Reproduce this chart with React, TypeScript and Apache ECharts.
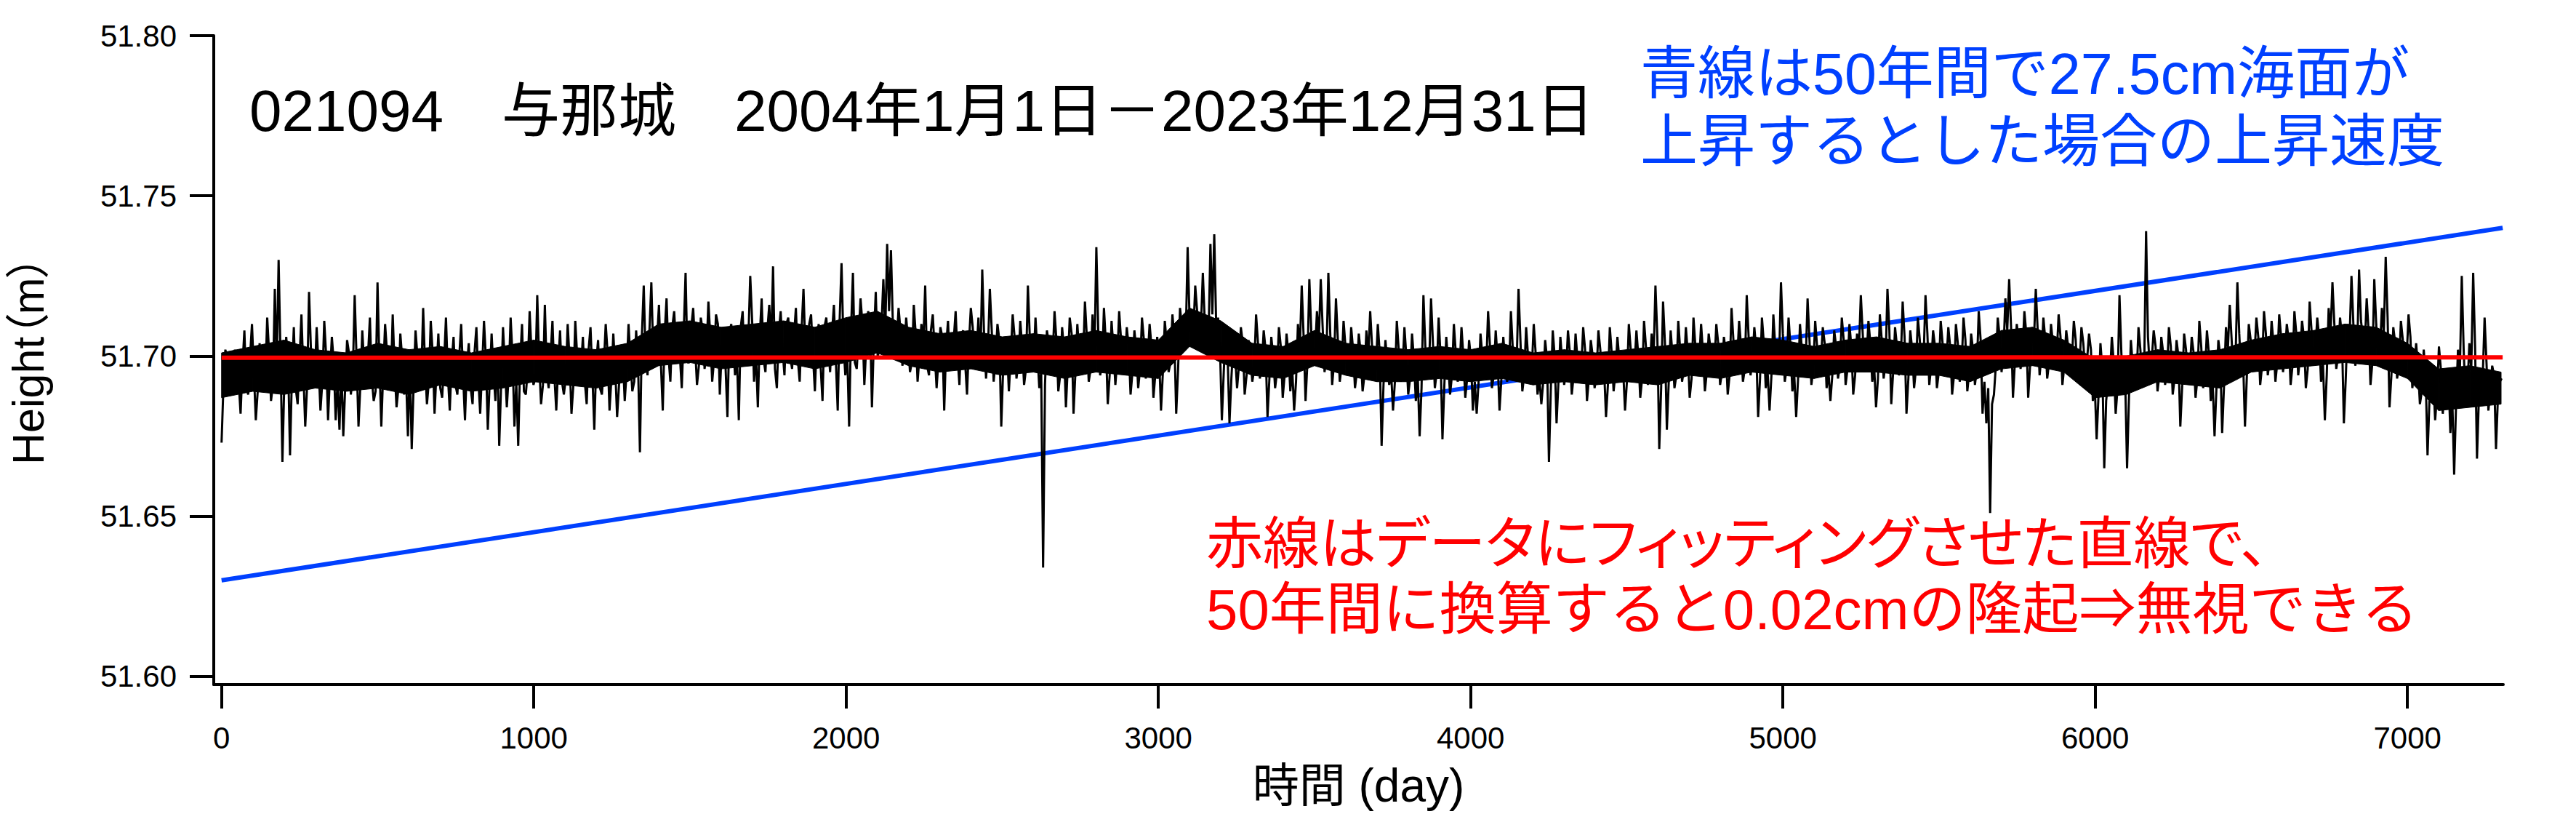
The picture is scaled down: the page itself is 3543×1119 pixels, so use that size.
import React, { useEffect, useRef } from "react";
import * as echarts from "echarts";

// Daily height deviations, in mm relative to 51.700 m.
// "y" arrays: samples ~every 12 days (carry the visible excursions);
// "m" arrays: the in-between samples (the dense core of the trace).
const y2004 = [-27, 2, -5, -10, -3, -18, 8, -12, 10, -20, 4, -8, 12, -14, 21, 30, -33, 6, -31, 9, -15, 13, -22, 20, -10, 9, -17, 11, -20, 6];
const y2005 = [-20, -23, -25, 5, -12, 19, -22, 8, -10, 12, -14, 23, -22, 10, -8, 13, -16, 7, -12, -25, -29, 8, -6, 15, -15, 11, -18, 7, -13, 12];
const y2006 = [-17, 6, -12, 10, -20, 4, -15, 9, -18, 11, -23, 7, -14, -28, 9, -16, 12, -22, -28, 10, -12, 14, -9, 19, -15, 16, -10, 11, -17, 8];
const y2007 = [-12, 10, -18, 11, -8, 6, -15, 9, -23, 5, -12, 10, -17, 7, -19, 3, -14, 10, -11, 8, -30, 22, -6, 23, -3, 16, -17, 18, -8, 14];
const y2008 = [5, -10, 26, -2, 15, -9, 12, -4, 17, -8, 13, -12, 9, -19, 10, -6, -20, 14, -3, 25, -8, -16, 18, -5, 16, 28, -10, 14, -6, 12];
const y2009 = [-4, 15, -8, 21, -2, 13, -11, 10, -14, 12, -5, 16, -17, 29, -6, -22, 26, -4, 18, -9, 14, -16, 20, 2, 24, 35, 33, 5, 15, -3];
const y2010 = [12, -5, 16, -8, 10, 22, -6, 13, -10, 9, -17, 11, -4, 14, -9, 8, -12, 15, -3, 12, 27, -7, 21, -8, 10, -22, 6, -11, 13, -7];
const y2011 = [11, -9, 22, -4, 12, -10, -66, 8, -6, 14, -11, 9, -16, 12, -18, 10, -5, 17, -8, 13, 34, -6, 15, -15, 11, -9, 14, -4, 9, -12];
const y2012 = [8, -10, 12, -7, 10, -13, 6, -17, 11, -5, 13, -18, 15, 2, 34, 5, 22, 8, 26, 10, 35, 38, 12, -20, 9, -21, 4, -10, 9, -12];
const y2013 = [5, -8, 13, -7, 8, -19, 6, -10, 9, -13, 7, -11, -17, 10, 22, -14, 24, -3, 14, 24, -5, 26, -9, 18, -8, 11, -6, 9, -10, 7];
const y2014 = [-11, 8, 14, -6, 10, -28, 5, -9, -17, 11, -8, 9, -12, 7, -14, -25, 19, -5, 18, -10, 12, -26, 6, -12, 10, -8, 9, -13, 5, -17];
const y2015 = [-18, 7, -6, 14, -10, 8, -17, 6, -8, 14, -4, 21, -11, 9, -7, 10, -12, -15, 5, -33, 8, -21, 6, -9, 8, -12, 7, -6, 9, -14];
const y2016 = [5, -10, 8, -7, -19, 9, -11, 6, -8, -17, 10, -6, 8, -13, 11, -9, 7, 22, -29, 17, -23, 8, -10, 11, -8, 9, -13, 12, -5, 10];
const y2017 = [-11, 7, -6, 10, -9, 6, -12, 15, -4, 11, -8, 19, -6, 9, -19, 12, -10, -17, 13, -5, 23, -8, 12, -11, -19, 10, -5, 18, -9, 11];
const y2018 = [-6, 9, -10, -14, 8, -7, 12, -9, 10, -12, 7, 19, -5, 11, -8, -16, 13, -7, 21, -15, 9, -6, 17, -18, 8, -10, 12, -5, 19, -9];
const y2019 = [8, -10, 11, -6, 9, -12, 10, -8, 12, -11, 7, -9, 14, -18, -21, -49, -12, 12, -5, 18, 24, -13, 10, -4, 14, -13, 9, 21, -6, 12];
const y2020 = [-7, 10, -4, 13, -9, 8, -6, 11, -8, 9, -5, 7, -14, -26, 4, -35, -8, 6, -18, 19, -12, -35, 5, -10, 9, -7, 39, -4, 8, -11];
const y2021 = [6, -9, 9, -12, 5, -22, 7, -8, 6, -13, 11, -10, 8, -14, -25, 5, -24, 9, 16, -7, 23, -6, -22, 10, -4, 12, -9, 14, -6, 11];
const y2022 = [-8, 13, -5, 10, -9, 14, -6, 11, -10, 17, -3, 12, -8, -20, 15, 23, -4, 12, -21, 10, 25, -3, 27, 6, 18, -9, 24, -2, 15, 31];
const y2023 = [-16, 9, -7, 11, -4, 13, -10, 4, -15, 2, -31, -8, -20, 3, -18, -5, -24, -37, 2, 25, -14, 4, 26, -32, -6, 12, -17, -3, -29, -8];

const m2004 = [-9, -1, -6, 2, -8, -3, -10, 0, -5, -11, -2, -7, 1, -9, -4, 0, -8, -2, -6, -10, -1, -5, -9, 2, -7, -3, -8, 0, -6, -2];
const m2005 = [-8, -2, -10, 1, -6, -1, -9, -3, 0, -7, -11, -2, -5, 1, -8, -4, -10, -1, -6, -2, -9, 0, -7, -3, -8, 1, -5, -10, -2, -6];
const m2006 = [-2, -9, 0, -6, -3, -10, 1, -7, -4, -1, -8, -5, 2, -9, -3, -6, 0, -8, -2, -11, -4, 1, -7, -2, -9, -5, 0, -6, -3, -8];
const m2007 = [-7, -1, -9, 0, -4, -8, 2, -6, -2, -10, -3, 1, -7, -4, -9, 0, -5, -1, -8, -2, 6, -1, 8, 1, 5, -2, 7, 0, 9, 3];
const m2008 = [0, 7, -2, 9, 3, -3, 8, 1, 6, -1, 10, 2, -3, 7, 4, 0, 9, -2, 5, 11, 1, 6, -1, 8, 3, -4, 7, 2, 10, 0];
const m2009 = [6, -1, 8, 2, 10, 0, 5, -3, 9, 3, 7, -1, 11, 4, 1, 8, -2, 6, 10, 3, 12, 5, 0, 9, 7, 14, 10, 4, 8, 1];
const m2010 = [5, -2, 7, 0, 4, -3, 8, 1, -1, 6, 3, -4, 5, 0, 7, -2, 4, 9, 1, -3, 6, 2, 8, -1, 5, -4, 3, 0, 6, -2];
const m2011 = [3, -4, 6, -2, 1, -5, -9, 4, -1, 5, -6, 2, -3, 7, -5, 1, -2, 6, -4, 0, 8, -3, 4, -6, 2, -1, 5, -3, 3, -5];
const m2012 = [2, -4, 5, -1, 3, -6, 0, -5, 4, -2, 6, -4, 9, 5, 12, 7, 14, 9, 11, 6, 13, 10, 3, -5, 1, -7, 0, -3, 4, -6];
const m2013 = [1, -4, 4, -3, 2, -7, 0, -5, 3, -6, 1, -4, -8, 2, 6, -2, 8, 1, 5, 9, 0, 7, -2, 5, -3, 3, -4, 2, -5, 1];
const m2014 = [-6, 0, 3, -4, 1, -9, -2, -5, -8, 2, -4, 0, -7, -1, -6, -10, 3, -3, 4, -5, 0, -9, -2, -6, 1, -4, 0, -7, -1, -8];
const m2015 = [-8, 0, -4, 3, -6, -1, -7, -2, -5, 2, -3, 5, -6, 0, -4, 1, -7, -8, -1, -10, 0, -8, -2, -5, 1, -6, -1, -4, 2, -7];
const m2016 = [0, -6, 2, -4, -9, 1, -5, -1, -4, -8, 2, -3, 0, -7, 3, -5, -1, 6, -10, 4, -8, 0, -6, 2, -4, 1, -7, 3, -2, 1];
const m2017 = [-5, 2, -3, 4, -5, 1, -6, 5, -1, 3, -4, 6, -2, 2, -7, 4, -5, -6, 3, -2, 7, -4, 3, -6, -7, 2, -2, 5, -4, 3];
const m2018 = [-2, 4, -5, -6, 3, -3, 5, -4, 3, -6, 2, 7, -1, 4, -3, -7, 5, -2, 8, -5, 3, -2, 6, -7, 2, -4, 5, -1, 7, -3];
const m2019 = [3, -5, 4, -2, 3, -6, 4, -3, 5, -5, 2, -4, 5, -8, -10, -15, -3, 6, 1, 8, 9, -2, 5, 1, 7, -3, 4, 8, 0, 5];
const m2020 = [-2, 4, 0, 6, -3, 3, -1, 5, -3, 4, -1, 2, -9, -12, -4, -14, -6, -2, -10, 1, -7, -13, -3, -7, 2, -4, 6, -1, 3, -6];
const m2021 = [1, -5, 3, -7, 0, -9, 2, -4, 1, -7, 3, -5, 1, -8, -10, 0, -9, 2, 5, -2, 7, -1, -6, 5, 0, 6, -3, 7, -1, 4];
const m2022 = [-2, 6, 0, 5, -3, 7, 0, 6, -4, 8, 1, 6, -2, -6, 7, 10, 0, 6, -7, 5, 10, 1, 11, 3, 8, -2, 10, 2, 7, 12];
const m2023 = [-6, 4, -3, 5, -1, 6, -5, -4, -11, -6, -14, -7, -12, -4, -11, -6, -13, -15, -5, 2, -10, -4, 3, -13, -7, -2, -11, -6, -13, -7];

// Solid-looking core of the daily trace (upper / lower edge, mm relative to 51.700 m), every 100 days
const coreHi = [1, 3, 5, 2, 1, 4, 2, 3, 1, 3, 5, 3, 2, 4, 10, 11, 9, 10, 11, 9, 12, 14, 9, 7, 8, 6, 7, 6, 8, 6, 5, 15, 11, 4, 3, 8, 4, 3, 2, 3, 2, 4, 1, 2, 1, 2, 3, 4, 4, 6, 5, 3, 5, 6, 4, 4, 3, 8, 9, 5, -1, 0, 2, 1, 2, 5, 7, 8, 10, 9, 4, -4, -3, -5];
const coreLo = [-13, -11, -12, -10, -11, -10, -12, -9, -11, -10, -8, -9, -10, -8, -3, -2, -4, -3, -2, -4, -2, 1, -3, -5, -4, -6, -5, -7, -5, -6, -7, 3, -2, -6, -7, -3, -6, -8, -8, -7, -8, -7, -9, -8, -9, -8, -9, -6, -7, -5, -6, -7, -5, -5, -6, -6, -8, -4, -3, -5, -13, -12, -8, -9, -10, -5, -4, -3, -2, -3, -7, -17, -16, -15];
const coreStepDays = 100;

const mainSamples = [y2004, y2005, y2006, y2007, y2008, y2009, y2010, y2011, y2012, y2013,
  y2014, y2015, y2016, y2017, y2018, y2019, y2020, y2021, y2022, y2023];
const midSamples = [m2004, m2005, m2006, m2007, m2008, m2009, m2010, m2011, m2012, m2013,
  m2014, m2015, m2016, m2017, m2018, m2019, m2020, m2021, m2022, m2023];
const baseHeight = 51.7; // m
const sampleStepDays = 6.09;

// Fitted line (red) and 27.5cm / 50 yr rise line (blue): [day, height]
const fitLine: [number, number][] = [[0, 51.6995], [7305, 51.6996]];
const riseLine: [number, number][] = [[0, 51.630], [7305, 51.740]];

const xTicks = [0, 1000, 2000, 3000, 4000, 5000, 6000, 7000];
const yTicks = [51.6, 51.65, 51.7, 51.75, 51.8];

const titleText = "021094　与那城　2004年1月1日－2023年12月31日";
const blueNote = ["青線は50年間で27.5cm海面が", "上昇するとした場合の上昇速度"];
const redNote = ["赤線はデータにフィッティングさせた直線で、", "50年間に換算すると0.02cmの隆起⇒無視できる"];

const FONT = "'Liberation Sans', Arial, 'Noto Sans CJK JP', sans-serif";
const BLUE = "#0040ff";
const RED = "#ff0000";
const RED_PROP = "#ff0001"; // same red; proportional kana spacing applied via CSS

export default function App() {
  const ref = useRef<HTMLDivElement>(null);
  useEffect(() => {
    if (!ref.current) return;
    const chart = echarts.init(ref.current, null, { renderer: "svg" });
    const heights: [number, number][] = [];
    mainSamples.forEach((yr, y) => {
      yr.forEach((mm, k) => {
        heights.push([heights.length * sampleStepDays, baseHeight + mm / 1000]);
        heights.push([heights.length * sampleStepDays, baseHeight + midSamples[y][k] / 1000]);
      });
    });
    const core = coreHi.map((hi, i) => [i * coreStepDays, baseHeight + hi / 1000, baseHeight + coreLo[i] / 1000]);

    const option: any = {
      animation: false,
      backgroundColor: "#ffffff",
      grid: { left: 283, right: 100, top: 49, bottom: 178 },
      xAxis: {
        type: "value",
        min: -25,
        max: 7307,
        name: "時間 (day)",
        nameLocation: "middle",
        nameGap: 107,
        nameTextStyle: { fontFamily: FONT, fontSize: 64, color: "#000" },
        axisLine: { show: true, onZero: false, lineStyle: { color: "#000", width: 4 } },
        axisTick: { show: true, length: 33, lineStyle: { color: "#000", width: 4 }, customValues: xTicks },
        axisLabel: {
          fontFamily: FONT, fontSize: 42, color: "#000", margin: 52, customValues: xTicks,
          formatter: (v: number) => String(v),
        },
        splitLine: { show: false },
      },
      yAxis: {
        type: "value",
        min: 51.5975,
        max: 51.8,
        name: "Height（m）",
        nameLocation: "middle",
        nameGap: 225,
        nameTextStyle: { fontFamily: FONT, fontSize: 61, color: "#010101" },
        axisLine: { show: true, onZero: false, lineStyle: { color: "#000", width: 4 } },
        axisTick: { show: true, length: 33, lineStyle: { color: "#000", width: 4 }, customValues: yTicks },
        axisLabel: {
          fontFamily: FONT, fontSize: 42, color: "#000", margin: 51, customValues: yTicks,
          formatter: (v: number) => v.toFixed(2),
        },
        splitLine: { show: false },
      },
      series: [
        {
          type: "line", data: riseLine, symbol: "none",
          lineStyle: { color: BLUE, width: 6 }, z: 2,
        },
        {
          type: "custom", z: 3, clip: true,
          data: core,
          renderItem: (params: any, api: any) => {
            const i = params.dataIndex;
            if (i >= core.length - 1) return null;
            const a = core[i], b = core[i + 1];
            const pts = [
              api.coord([a[0], a[1]]), api.coord([b[0], b[1]]),
              api.coord([b[0], b[2]]), api.coord([a[0], a[2]]),
            ];
            return { type: "polygon", shape: { points: pts }, style: { fill: "#000", stroke: "#000", lineWidth: 1 } };
          },
        },
        {
          type: "line", data: heights, symbol: "none",
          lineStyle: { color: "#000", width: 3, join: "bevel" }, z: 4,
        },
        {
          type: "line", data: fitLine, symbol: "none",
          lineStyle: { color: RED, width: 6 }, z: 5,
        },
      ],
      graphic: [
        { type: "text", x: 343, y: 152, z: 10, style: { text: titleText, font: `80px ${FONT}`, fill: "#000", verticalAlign: "middle" } },
        { type: "text", x: 2256, y: 101, z: 10, style: { text: blueNote[0], font: `79px ${FONT}`, fill: BLUE, verticalAlign: "middle" } },
        { type: "text", x: 2256, y: 194, z: 10, style: { text: blueNote[1], font: `79px ${FONT}`, fill: BLUE, verticalAlign: "middle" } },
        { type: "text", x: 1659, y: 748, z: 10, style: { text: redNote[0], font: `78px ${FONT}`, fill: RED_PROP, verticalAlign: "middle" } },
        { type: "text", x: 1659, y: 838, z: 10, style: { text: redNote[1], font: `78px ${FONT}`, fill: RED, verticalAlign: "middle" } },
      ],
    };
    chart.setOption(option);
    return () => chart.dispose();
  }, []);
  return (
    <>
      <style>{`
        body { margin: 0; }
        svg text[fill="#ff0001" i], svg text[fill="#010101" i] { font-feature-settings: "palt" 1 !important; }
      `}</style>
      <div ref={ref} style={{ position: "absolute", left: 0, top: 0, width: 3543, height: 1119 }} />
    </>
  );
}
